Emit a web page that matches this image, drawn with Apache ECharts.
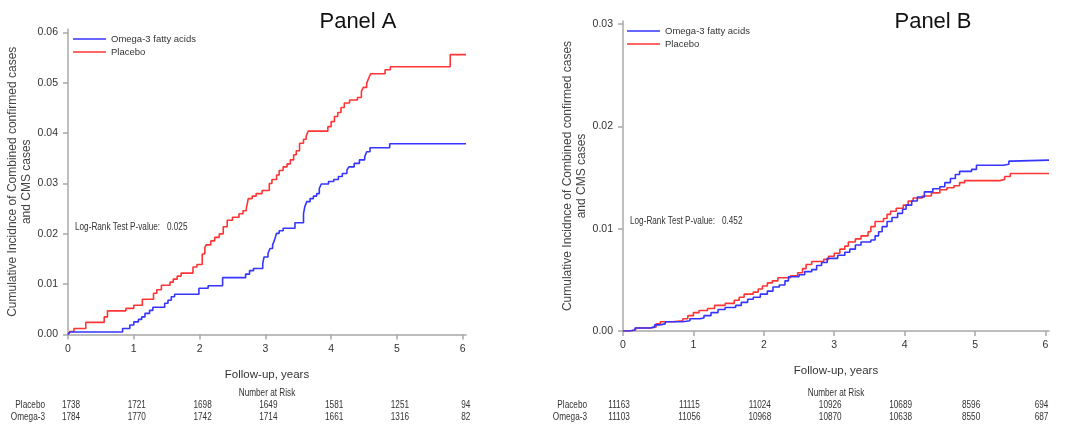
<!DOCTYPE html>
<html>
<head>
<meta charset="utf-8">
<script src="https://cdn.jsdelivr.net/npm/echarts@6/dist/echarts.min.js"></script>
<style>html,body{margin:0;padding:0;background:#fff}#c{width:1082px;height:428px}</style>
</head>
<body>
<div id="c"></div>
<script>
// ---------- DATA ----------
const xTicks = [0, 1, 2, 3, 4, 5, 6];
const yTicksA = [0, 0.01, 0.02, 0.03, 0.04, 0.05, 0.06];
const yTicksB = [0, 0.01, 0.02, 0.03];

// Panel A - Placebo
const aPlaceboT = [0,0.03,0.09,0.27,0.55,0.6,0.88,1.0,1.13,1.3,1.35,1.42,1.55,1.6,1.66,1.72,1.9,1.96,2.04,2.08,2.1,2.17,2.23,2.3,2.36,2.42,2.5,2.6,2.66,2.71,2.74,2.8,2.86,2.95,3.06,3.1,3.17,3.21,3.27,3.33,3.38,3.43,3.47,3.52,3.58,3.62,3.65,3.95,4.0,4.05,4.1,4.15,4.2,4.28,4.4,4.46,4.49,4.54,4.57,4.6,4.82,4.9,5.81,6.05];
const aPlaceboY = [0,0.0006,0.0012,0.0024,0.0035,0.0047,0.0052,0.0058,0.007,0.0082,0.0089,0.0098,0.0104,0.011,0.0116,0.0122,0.0134,0.0139,0.016,0.0172,0.0178,0.0186,0.0193,0.02,0.0214,0.0227,0.0233,0.024,0.0246,0.025,0.027,0.0275,0.028,0.0286,0.030,0.0308,0.0317,0.0326,0.0333,0.0339,0.0347,0.0357,0.0365,0.038,0.0388,0.0394,0.0404,0.0413,0.0423,0.0433,0.0441,0.0451,0.046,0.0466,0.0471,0.0483,0.0491,0.0499,0.0509,0.0518,0.0526,0.0532,0.0556,0.0556];
// Panel A - Omega-3
const aOmegaT = [0,0.03,0.83,0.94,1.0,1.07,1.12,1.17,1.24,1.29,1.47,1.52,1.57,1.62,1.99,2.13,2.35,2.7,2.76,2.82,2.96,2.98,3.04,3.07,3.11,3.14,3.17,3.21,3.27,3.45,3.58,3.6,3.63,3.68,3.73,3.78,3.82,3.85,3.96,4.04,4.11,4.17,4.24,4.27,4.35,4.43,4.51,4.54,4.59,4.89,6.05];
const aOmegaY = [0,0.0005,0.0012,0.0019,0.0025,0.003,0.0035,0.0042,0.0048,0.0054,0.0062,0.0068,0.0075,0.008,0.0092,0.0097,0.0113,0.012,0.0127,0.0131,0.0141,0.0154,0.0161,0.0171,0.0178,0.0188,0.0201,0.0206,0.0211,0.0222,0.024,0.0254,0.0264,0.027,0.0275,0.028,0.029,0.0299,0.0304,0.0308,0.0314,0.032,0.0327,0.0333,0.034,0.0347,0.0353,0.0363,0.0371,0.0379,0.0379];

// Panel B - Omega-3
const bOmegaT = [0,0.1,0.17,0.38,0.45,0.52,0.6,0.85,0.95,1.1,1.15,1.25,1.35,1.45,1.6,1.68,1.77,1.85,1.95,2.05,2.13,2.22,2.3,2.35,2.5,2.58,2.68,2.75,2.82,2.9,3.05,3.15,3.22,3.3,3.38,3.52,3.58,3.63,3.68,3.75,3.82,3.9,3.97,4.02,4.1,4.18,4.28,4.4,4.5,4.57,4.65,4.72,4.78,4.95,5.02,5.4,5.48,5.52,6.05];
const bOmegaY = [0,0.0001,0.0003,0.0004,0.0006,0.0007,0.0009,0.001,0.0012,0.0013,0.0015,0.0018,0.0021,0.0023,0.0025,0.0028,0.0031,0.0033,0.0036,0.0039,0.0043,0.0045,0.0049,0.0053,0.0055,0.0058,0.006,0.0064,0.0067,0.0071,0.0074,0.0077,0.008,0.0084,0.0087,0.0089,0.0093,0.0097,0.0102,0.0107,0.0111,0.0115,0.0119,0.0123,0.0127,0.0131,0.0136,0.0139,0.0141,0.0145,0.0149,0.0153,0.0156,0.0158,0.0162,0.0163,0.0166,0.0167,0.0167];
// Panel B - Placebo
const bPlaceboT = [0,0.08,0.18,0.4,0.47,0.53,0.7,0.85,0.92,1.0,1.08,1.2,1.3,1.45,1.58,1.65,1.72,1.85,1.92,1.98,2.05,2.12,2.2,2.38,2.48,2.55,2.6,2.68,2.85,2.92,3.0,3.08,3.15,3.2,3.3,3.38,3.48,3.52,3.58,3.7,3.75,3.8,3.88,3.98,4.05,4.12,4.25,4.38,4.5,4.6,4.7,4.78,4.85,5.35,5.42,5.5,6.05];
const bPlaceboY = [0,0.0001,0.0003,0.0004,0.0007,0.0009,0.001,0.0012,0.0015,0.0018,0.002,0.0022,0.0025,0.0027,0.003,0.0033,0.0036,0.0038,0.0041,0.0044,0.0047,0.0049,0.0052,0.0054,0.0057,0.0061,0.0065,0.0068,0.007,0.0073,0.0076,0.008,0.0083,0.0087,0.009,0.0093,0.0097,0.0102,0.0107,0.011,0.0114,0.0117,0.012,0.0123,0.0127,0.013,0.0132,0.0135,0.0138,0.014,0.0142,0.0145,0.0147,0.0148,0.0151,0.0154,0.0154];

// Number at risk
const riskLabels = ['Placebo', 'Omega-3'];
const aRiskPlacebo = [1738, 1721, 1698, 1649, 1581, 1251, 94];
const aRiskOmega = [1784, 1770, 1742, 1714, 1661, 1316, 82];
const bRiskPlacebo = [11163, 11115, 11024, 10926, 10689, 8596, 694];
const bRiskOmega = [11103, 11056, 10968, 10870, 10638, 8550, 687];

const seriesNames = ['Omega-3 fatty acids', 'Placebo'];
const pValues = ['0.025', '0.452'];
const panelTitles = ['Panel A', 'Panel B'];

// ---------- CHART ----------
const FONT = '"Liberation Sans", Arial, sans-serif';
const BLUE = '#3535ff', RED = '#ff3535', AXIS = '#a8a8a8';
const zip = (t, y) => t.map((v, i) => [v, y[i]]);

function xAxisCfg(gi) {
  return {
    type: 'value', gridIndex: gi, min: 0, max: 6.05,
    name: 'Follow-up, years', nameLocation: 'middle', nameGap: 34,
    nameTextStyle: { fontFamily: FONT, fontSize: 11.5, color: '#333' },
    axisLine: { lineStyle: { color: AXIS, width: 1.5 } },
    axisTick: { show: true, length: 5, customValues: xTicks, lineStyle: { color: AXIS, width: 1.5 } },
    axisLabel: { customValues: xTicks, fontFamily: FONT, fontSize: 10.5, color: '#333', margin: 9 },
    splitLine: { show: false }
  };
}
function yAxisCfg(gi, max, ticks) {
  return {
    type: 'value', gridIndex: gi, min: 0, max: max,
    name: 'Cumulative Incidnce of Combined confirmed cases\nand CMS cases',
    nameLocation: 'middle', nameGap: 33, nameRotate: 90,
    nameTextStyle: { fontFamily: FONT, fontSize: 12, color: '#444', lineHeight: 14 },
    axisLine: { show: true, lineStyle: { color: AXIS, width: 1.5 } },
    axisTick: { show: true, length: 5, customValues: ticks, lineStyle: { color: AXIS, width: 1.5 } },
    axisLabel: { customValues: ticks, fontFamily: FONT, fontSize: 10.5, color: '#333', margin: 10,
      formatter: v => v.toFixed(2) },
    splitLine: { show: false }
  };
}
function lineSeries(name, gi, t, y, color) {
  return {
    type: 'line', name: name, xAxisIndex: gi, yAxisIndex: gi, step: 'end',
    data: zip(t, y), symbol: 'none', showSymbol: false,
    lineStyle: { color: color, width: 1.6 }, itemStyle: { color: color },
    animation: false
  };
}

const chart = echarts.init(document.getElementById('c'), null, { renderer: 'canvas' });
const legendCfg = (left, top) => ({
  left: left, top: top, padding: 0, orient: 'vertical', itemWidth: 33, itemHeight: 10, itemGap: 3,
  icon: 'path://M0,0 L33,0 L33,1.6 L0,1.6 Z',
  data: seriesNames, textStyle: { fontFamily: FONT, fontSize: 9.5, color: '#333' }, selectedMode: false
});

chart.setOption({
  animation: false,
  title: [
    { text: panelTitles[0], left: 353, top: 6, textAlign: 'center', textStyle: { fontFamily: FONT, fontSize: 22, fontWeight: 'normal', color: '#111' } },
    { text: panelTitles[1], left: 928, top: 6, textAlign: 'center', textStyle: { fontFamily: FONT, fontSize: 22, fontWeight: 'normal', color: '#111' } }
  ],
  legend: [legendCfg(73, 34), legendCfg(627, 26)],
  grid: [
    { left: 68, top: 29, width: 398, height: 305.5 },
    { left: 623, top: 21, width: 426, height: 310 }
  ],
  xAxis: [xAxisCfg(0), xAxisCfg(1)],
  yAxis: [yAxisCfg(0, 0.0607, yTicksA), yAxisCfg(1, 0.0303, yTicksB)],
  series: [
    lineSeries(seriesNames[1], 0, aPlaceboT, aPlaceboY, RED),
    lineSeries(seriesNames[0], 0, aOmegaT, aOmegaY, BLUE),
    lineSeries(seriesNames[1], 1, bPlaceboT, bPlaceboY, RED),
    lineSeries(seriesNames[0], 1, bOmegaT, bOmegaY, BLUE)
  ]
});

// Text annotations and number-at-risk table positioned through the axes
const txt = (x, y, s, opt, sx) => ({
  type: 'text', x: x, y: y, silent: true, scaleX: sx || 0.82,
  style: Object.assign({ text: s, fontFamily: FONT, fontSize: 10, fill: '#333', align: 'center', verticalAlign: 'middle' }, opt || {})
});
const g = [];
function panelExtras(gi, pIdx, riskP, riskO, labelRight, numOffset) {
  const p0 = chart.convertToPixel({ gridIndex: gi }, [0, 0]);
  const pMid = chart.convertToPixel({ gridIndex: gi }, [3.025, 0]);
  const pTop = chart.convertToPixel({ gridIndex: gi }, [0, gi === 0 ? 0.0213 : 0.0107]);
  g.push(txt(p0[0] + 7, pTop[1], 'Log-Rank Test P-value:   ' + pValues[pIdx], { align: 'left', fontSize: 10.5 }, 0.78));
  g.push(txt(pMid[0], 393, 'Number at Risk'));
  g.push(txt(labelRight, 405.5, riskLabels[0], { align: 'right' }));
  g.push(txt(labelRight, 417, riskLabels[1], { align: 'right' }));
  xTicks.forEach((t, i) => {
    const px = chart.convertToPixel({ gridIndex: gi }, [t, 0])[0] + numOffset;
    g.push(txt(px, 405.5, String(riskP[i])));
    g.push(txt(px, 417, String(riskO[i])));
  });
}
panelExtras(0, 0, aRiskPlacebo, aRiskOmega, 45, 3);
panelExtras(1, 1, bRiskPlacebo, bRiskOmega, 587, -4);
chart.setOption({ graphic: g });
</script>
</body>
</html>
